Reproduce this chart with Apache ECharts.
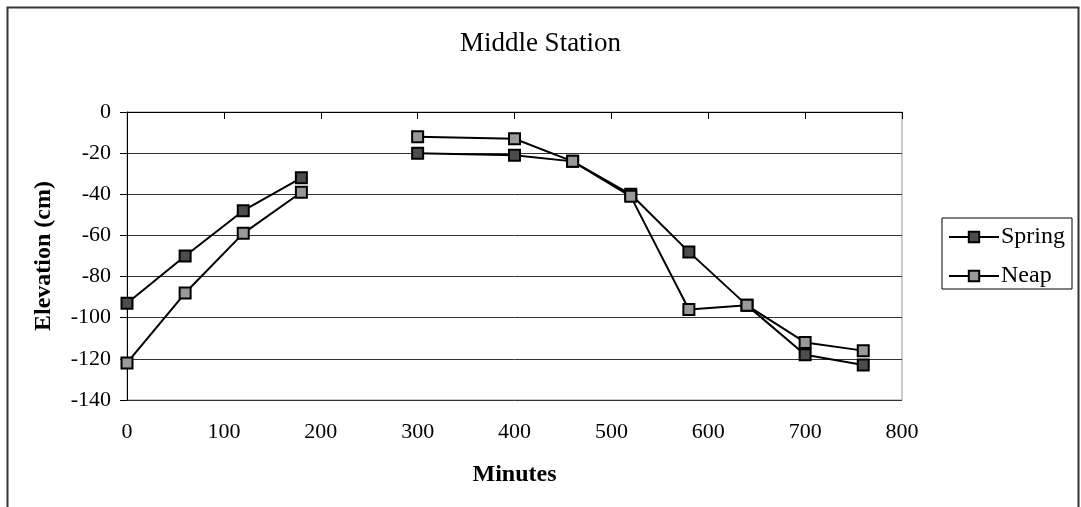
<!DOCTYPE html>
<html>
<head>
<meta charset="utf-8">
<script src="https://cdn.jsdelivr.net/npm/echarts@6/dist/echarts.min.js"></script>
<style>html,body{margin:0;padding:0;background:#fff}#c{width:1081px;height:507px}</style>
</head>
<body>
<div id="c"></div>
<script>
const minutes = [0, 60, 120, 180, 240, 300, 400, 460, 520, 580, 640, 700, 760];
const spring = [-93, -70, -48, -32, null, -20, -21, -24, -40, -68, -94, -118, -123];
const neap = [-122, -88, -59, -39, null, -12, -13, -24, -41, -96, -94, -112, -116];
const xTicks = [0, 100, 200, 300, 400, 500, 600, 700, 800];
const yTicks = [0, -20, -40, -60, -80, -100, -120, -140];

const pairs = (vals) => minutes.map((m, i) => [m, vals[i] === null ? '-' : vals[i]]);
const font = '"Liberation Serif", "Times New Roman", serif';

const chart = echarts.init(document.getElementById('c'), null, {renderer: 'canvas'});
chart.setOption({
  animation: false,
  backgroundColor: '#fff',
  textStyle: {fontFamily: font},
  title: {
    text: 'Middle Station', left: 'center', top: 25,
    textStyle: {fontFamily: font, fontSize: 27, fontWeight: 'normal', color: '#000'}
  },
  graphic: [{
    type: 'rect', shape: {x: 7.5, y: 7.5, width: 1071, height: 530},
    style: {fill: 'none', stroke: '#333', lineWidth: 2}, silent: true, z: -1
  }],
  legend: {
    left: 942, top: 218, orient: 'vertical',
    data: ['Spring', 'Neap'],
    itemWidth: 50, itemHeight: 13, itemGap: 15,
    padding: [7, 7, 1, 6],
    borderColor: '#000', borderWidth: 1,
    textStyle: {fontFamily: font, fontSize: 24, color: '#000', padding: [0, 0, 0, -3]}
  },
  grid: {left: 127, right: 179, top: 112, bottom: 107, containLabel: false,
    show: true, borderColor: '#999', borderWidth: 1},
  xAxis: {
    type: 'value', min: 0, max: 800, interval: 100,
    name: 'Minutes', nameLocation: 'middle', nameGap: 63,
    nameTextStyle: {fontFamily: font, fontSize: 24, fontWeight: 'bold', color: '#000'},
    axisLine: {lineStyle: {color: '#000', width: 1}},
    axisTick: {show: true, inside: false, length: 7, lineStyle: {color: '#000'}},
    axisLabel: {fontFamily: font, fontSize: 22, color: '#000', margin: 21,
      formatter: (v) => xTicks.includes(v) ? String(v) : ''},
    splitLine: {show: false}
  },
  yAxis: {
    type: 'value', min: -140, max: 0, interval: 20,
    name: 'Elevation (cm)', nameLocation: 'middle', nameGap: 71, nameRotate: 90,
    nameTextStyle: {fontFamily: font, fontSize: 24, fontWeight: 'bold', color: '#000'},
    axisLine: {show: true, lineStyle: {color: '#000', width: 1}},
    axisTick: {show: true, inside: false, length: 7, lineStyle: {color: '#000'}},
    axisLabel: {fontFamily: font, fontSize: 22, color: '#000', margin: 16,
      formatter: (v) => yTicks.includes(v) ? String(v) : ''},
    splitLine: {show: true, lineStyle: {color: '#333', width: 1}}
  },
  series: [
    {
      name: 'Spring', type: 'line', data: pairs(spring), connectNulls: false,
      symbol: 'rect', symbolSize: 11,
      lineStyle: {color: '#000', width: 2},
      itemStyle: {color: '#4d4d4d', borderColor: '#000', borderWidth: 2},
      z: 3
    },
    {
      name: 'Neap', type: 'line', data: pairs(neap), connectNulls: false,
      symbol: 'rect', symbolSize: 11,
      lineStyle: {color: '#000', width: 2},
      itemStyle: {color: '#999', borderColor: '#000', borderWidth: 2},
      z: 4
    }
  ]
});
</script>
</body>
</html>
